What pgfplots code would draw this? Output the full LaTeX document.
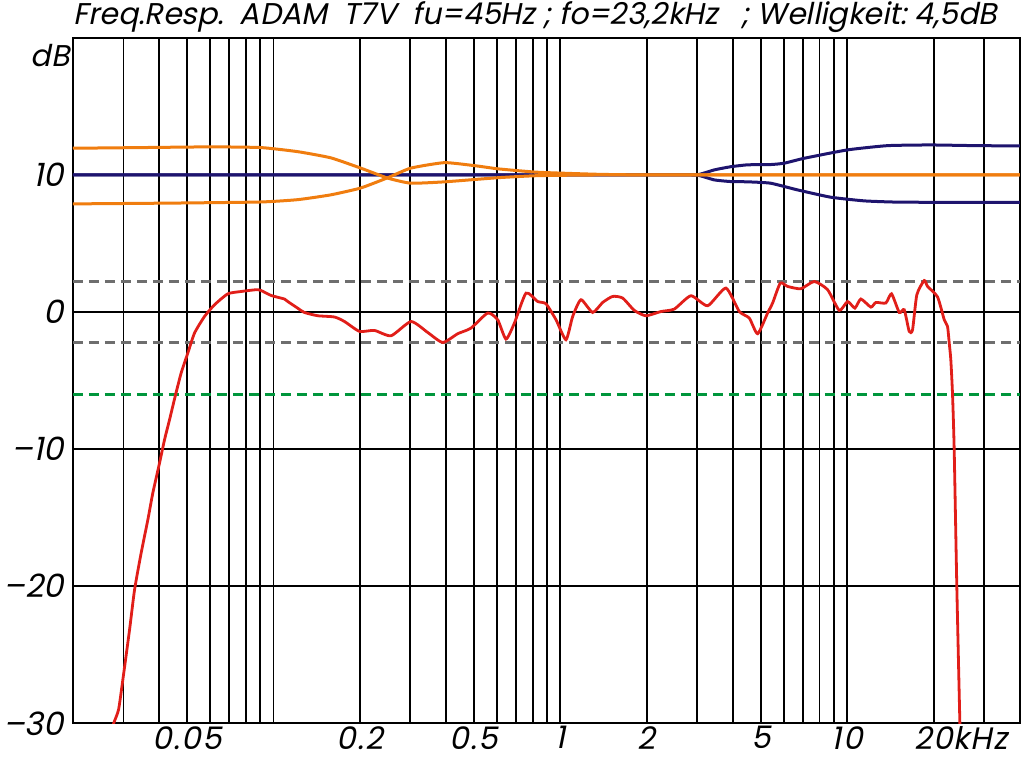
\documentclass[border=0pt]{standalone}
\usepackage{fontspec}
\setmainfont{Poppins}[FakeSlant=0.2]
\newfontfamily\spacedfont{Poppins}[FakeSlant=0.2, LetterSpace=5]
\usepackage{pgfplots}
\pgfplotsset{compat=1.18}
\definecolor{cred}{RGB}{225,30,25}
\definecolor{corange}{RGB}{240,125,15}
\definecolor{cnavy}{RGB}{30,20,110}
\definecolor{cgray}{RGB}{110,110,110}
\definecolor{cgreen}{RGB}{0,150,60}
\begin{document}
\begin{tikzpicture}
\useasboundingbox (-36.5pt,-17.85pt) rectangle (475.5pt,361.65pt);
\begin{axis}[
  at={(0,0)}, anchor=south west,
  scale only axis, width=473.5pt, height=342.7pt,
  xmode=log, xmin=0.02, xmax=40, ymin=-30, ymax=20,
  axis line style={line width=1pt, black},
  xtick={0.05,0.2,0.5,1,2,5,10,20},
  xticklabels={0.05,0.2,0.5,1,2,5,10,20\rlap{kHz}},
  minor xtick={0.03,0.04,0.06,0.07,0.08,0.09,0.1,0.3,0.4,0.6,0.7,0.8,0.9,3,4,6,7,8,9,30},
  ytick={-30,-20,-10,0,10},
  yticklabels={–30,–20,–10,0,10},
  xmajorgrids, xminorgrids, ymajorgrids,
  major grid style={black, line width=0.95pt},
  minor grid style={black, line width=0.95pt},
  major tick length=0pt, minor tick length=0pt,
  xticklabel style={font=\spacedfont\fontsize{15.5}{15.5}\selectfont, yshift=2pt},
  yticklabel style={font=\fontsize{16}{16}\selectfont, xshift=-1pt},
  clip=true,
]
\addplot[cgray, line width=1.5pt, dash pattern=on 5pt off 3pt] coordinates {(0.02,2.25) (40,2.25)};
\addplot[cgray, line width=1.5pt, dash pattern=on 5pt off 3pt] coordinates {(0.02,-2.25) (40,-2.25)};
\addplot[cgreen, line width=1.5pt, dash pattern=on 5pt off 3pt] coordinates {(0.02,-6) (40,-6)};
% blue upper
\addplot[cnavy, line width=1.5pt, smooth, tension=0.3] coordinates {
(0.02,10.0) (0.1,10.0) (0.5,10.0) (1.5,10.0) (2.5,10.0) (3.01,10.02) (3.44,10.37) (3.921,10.6) (4.494,10.74) (5.405,10.76) (6.033,10.86)
(7.085,11.22) (10.02,11.83) (13.82,12.14) (19.51,12.19) (28,12.14) (40,12.12)};
% blue lower
\addplot[cnavy, line width=1.5pt, smooth, tension=0.3] coordinates {
(0.02,10.0) (0.1,10.0) (0.5,10.0) (1.5,10.0) (2.5,10.0) (3.01,9.98) (3.44,9.64) (3.921,9.52) (4.494,9.5) (5.405,9.40) (6.711,8.91)
(8.746,8.38) (11.46,8.11) (14.97,8.02) (25,8.0) (40,8.0)};
% orange upper
\addplot[corange, line width=1.5pt, smooth, tension=0.3] coordinates {
(0.02,11.95) (0.035,12.0) (0.0605,12.05) (0.0903,12.0) (0.1215,11.7) (0.1584,11.25) (0.2014,10.5)
(0.2502,9.77) (0.3009,9.4) (0.3952,9.5) (0.6045,9.8) (0.8335,9.95) (1.349,10.0) (2.5,10.0) (5,10.0) (10,10.0) (20,10.0) (40,10.0)};
% orange lower
\addplot[corange, line width=1.5pt, smooth, tension=0.3] coordinates {
(0.02,7.89) (0.045,7.95) (0.0903,8.03) (0.1215,8.2) (0.1584,8.55) (0.2014,9.05) (0.2502,9.8)
(0.3009,10.5) (0.3952,10.9) (0.5150,10.65) (0.6045,10.45) (0.8335,10.2) (1.349,10.05) (2.0,10.0) (4,10.0) (10,10.0) (20,10.0) (40,10.0)};
% red response
\addplot[cred, line width=1.4pt, smooth, tension=0.35] coordinates {
(0.02740,-30.5) (0.02777,-29.96) (0.02884,-28.99) (0.02985,-26.80) (0.03150,-23.16) (0.03279,-20.24)
(0.03457,-17.57) (0.03648,-15.14) (0.03797,-13.19) (0.04006,-11.01) (0.04170,-9.31)
(0.04341,-7.85) (0.04541,-6.15) (0.04764,-4.45) (0.05027,-2.99) (0.05305,-1.53)
(0.05748,-0.32) (0.06228,0.53) (0.06932,1.33) (0.07712,1.50) (0.08697,1.63) (0.09054,1.57)
(0.09809,1.21) (0.1092,0.95) (0.1121,0.77) (0.1199,0.36) (0.1282,-0.03) (0.1427,-0.27)
(0.1631,-0.36) (0.1768,-0.69) (0.1994,-1.41) (0.2248,-1.34) (0.2569,-1.73) (0.3016,-0.69)
(0.3448,-1.49) (0.3890,-2.22) (0.4387,-1.58) (0.4881,-1.17) (0.5580,-0.07) (0.6045,-0.56)
(0.6462,-1.97) (0.6915,-0.80) (0.7589,1.38) (0.8335,0.77) (0.8909,0.60) (0.9653,-0.56)
(1.0459,-2.02) (1.1037,-0.32) (1.1797,0.90) (1.2955,-0.03) (1.4040,0.70) (1.5214,1.14)
(1.6486,1.02) (1.8104,0.12) (1.9875,-0.27) (2.2420,0.04) (2.4961,0.22) (2.8515,1.19)
(3.2610,0.46) (3.7757,1.75) (4.2042,0.04) (4.5545,-0.44) (4.8697,-1.58) (5.2773,-0.07)
(5.4930,0.66) (5.8426,2.11) (6.1944,1.87) (6.8897,1.70) (7.6739,2.23) (8.5395,1.63)
(9.3783,0.12) (10.024,0.77) (10.629,0.29) (11.154,0.95) (12.085,0.36) (12.581,0.70)
(13.630,0.66) (14.268,1.33) (15.18,-0.03) (15.80,0.17) (16.44,-1.41) (16.89,-1.29)
(17.48,1.26) (18.55,2.30) (19.05,1.87) (20.64,1.10) (21.78,-0.56) (22.36,-1.05)
(22.67,-2.26) (22.96,-3.48) (23.28,-6.03) (23.59,-10.04) (24.09,-20.0) (24.69,-29.96) (24.75,-30.5)};
\end{axis}
\node[anchor=base west, inner sep=0pt, font=\fontsize{15}{15}\selectfont] at (0pt,349.15pt)
  {Freq.Resp.\ \ ADAM\ \ T7V\ \ fu=45Hz\ ;\ fo=23,2kHz\ \ \ ;\ Welligkeit:\ 4,5dB};
\node[anchor=base east, inner sep=0pt, font=\fontsize{15}{15}\selectfont] at (-1.5pt,328.2pt) {dB};
\end{tikzpicture}
\end{document}
